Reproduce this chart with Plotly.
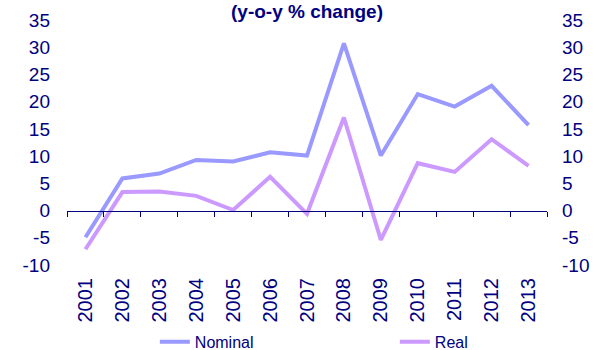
import plotly.graph_objects as go

years = ["2001", "2002", "2003", "2004", "2005", "2006", "2007",
         "2008", "2009", "2010", "2011", "2012", "2013"]
nominal = [-4.9, 5.9, 6.8, 9.3, 9.0, 10.7, 10.1, 30.7, 10.1, 21.4, 19.1, 22.9, 15.7]
real = [-7.1, 3.4, 3.5, 2.7, 0.1, 6.2, -0.6, 17.1, -5.4, 8.7, 7.1, 13.1, 8.2]
y_ticks = [35, 30, 25, 20, 15, 10, 5, 0, -5, -10]
y_tick_text = ["35", "30", "25", "20", "15", "10", "5", "0", "-5", "-10"]
y_range = [-10, 35]

NAVY = "#000080"
FONT = "Liberation Sans, Arial, sans-serif"
TICK = 19

fig = go.Figure()
fig.add_trace(go.Scatter(x=years, y=nominal, mode="lines", name="Nominal",
                         line=dict(color="#9999FF", width=4), legend="legend"))
fig.add_trace(go.Scatter(x=years, y=real, mode="lines", name="Real",
                         line=dict(color="#CC99FF", width=4), legend="legend2"))
# invisible trace for right axis
fig.add_trace(go.Scatter(x=years, y=nominal, yaxis="y2", mode="lines",
                         line=dict(width=0), showlegend=False, hoverinfo="skip",
                         opacity=0))
# invisible trace for zero-axis ticks
fig.add_trace(go.Scatter(x=years, y=real, xaxis="x2", mode="lines",
                         line=dict(width=0), showlegend=False, hoverinfo="skip",
                         opacity=0))

zero_pos = (0 - y_range[0]) / (y_range[1] - y_range[0])
x_range = [-0.5, len(years) - 0.5]

fig.update_layout(
    width=600, height=350,
    margin=dict(l=67, r=53, t=20, b=85, autoexpand=False),
    paper_bgcolor="white", plot_bgcolor="white",
    font=dict(family=FONT, color=NAVY, size=16),
    title=dict(text="<b>(y-o-y % change)</b>", x=0.5, xref="paper", xanchor="center",
               y=1 - 11 / 350, yref="container", yanchor="middle",
               font=dict(family=FONT, color=NAVY, size=19)),
    xaxis=dict(type="category", range=x_range, showline=False, showgrid=False, ticks="",
               tickangle=-90, tickfont=dict(size=20, color=NAVY),
               ticklabelstandoff=8, zeroline=False, automargin=False),
    xaxis2=dict(type="category", range=x_range, overlaying="x", anchor="free",
                position=zero_pos,
                side="bottom", showline=True, linecolor=NAVY, linewidth=1,
                ticks="outside", ticklen=5, tickcolor=NAVY, tickwidth=1,
                tickson="boundaries", showticklabels=False, showgrid=False,
                automargin=False),
    yaxis=dict(range=y_range, tickvals=y_ticks, ticktext=y_tick_text,
               showgrid=False, zeroline=False,
               showline=False, ticks="", ticklabelstandoff=16, automargin=False,
               tickfont=dict(size=TICK, color=NAVY)),
    yaxis2=dict(range=y_range, tickvals=y_ticks, ticktext=y_tick_text,
                overlaying="y", side="right",
                showgrid=False, zeroline=False, showline=False, ticks="",
                ticklabelstandoff=14, automargin=False,
                tickfont=dict(size=TICK, color=NAVY)),
    legend=dict(orientation="h", x=0.183, xanchor="left", y=-0.314, yanchor="middle",
                font=dict(size=16, color=NAVY), bgcolor="rgba(0,0,0,0)"),
    legend2=dict(orientation="h", x=0.683, xanchor="left", y=-0.314, yanchor="middle",
                 font=dict(size=16, color=NAVY), bgcolor="rgba(0,0,0,0)"),
    showlegend=True,
)

fig.write_html("out.html", config={"displayModeBar": False},
               post_script="document.body.style.margin='0px';document.body.style.overflow='hidden';")
